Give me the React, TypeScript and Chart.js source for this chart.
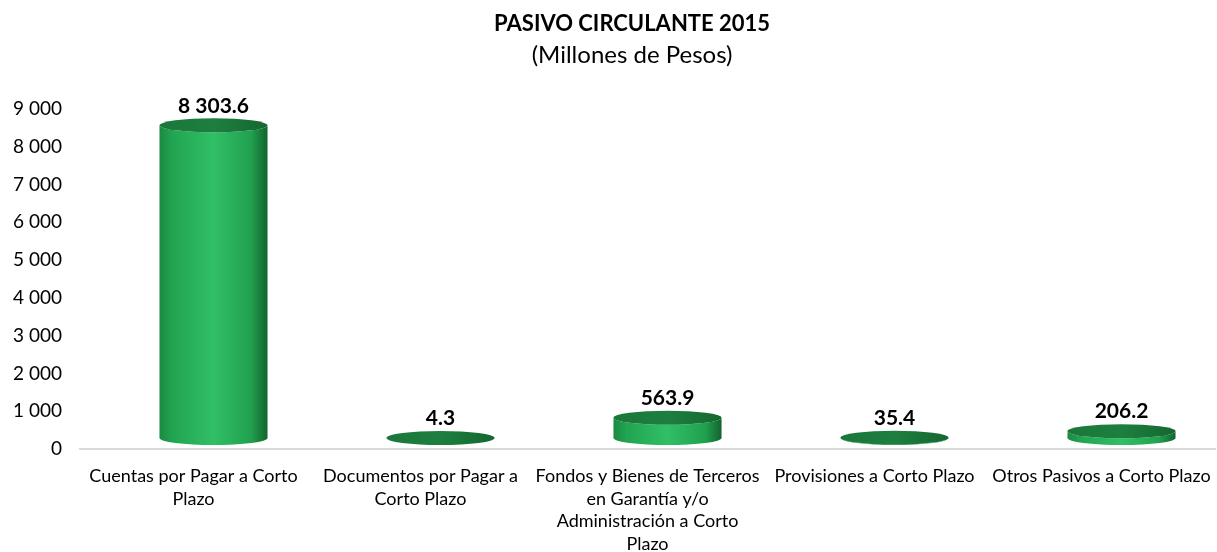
import React, { useEffect, useRef } from "react";
import { Chart, registerables } from "chart.js";

Chart.register(...registerables);

const categories: (string | string[])[] = [
  ["Cuentas por Pagar a Corto", "Plazo"],
  ["Documentos por Pagar a", "Corto Plazo"],
  ["Fondos y Bienes de Terceros", "en Garantía y/o", "Administración a Corto", "Plazo"],
  "Provisiones a Corto Plazo",
  "Otros Pasivos a Corto Plazo",
];
const values: number[] = [8303.6, 4.3, 563.9, 35.4, 206.2];
const valueLabels: string[] = ["8 303.6", "4.3", "563.9", "35.4", "206.2"];
const titleText = "PASIVO CIRCULANTE 2015";
const subtitleText = "(Millones de Pesos)";

const FONT = "Lato, 'Open Sans', sans-serif";

const fmt = (v: number) => {
  const s = Math.round(v).toString();
  return s.replace(/\B(?=(\d{3})+(?!\d))/g, " ");
};

const titlePlugin = {
  id: "manualTitles",
  afterDraw(chart: any) {
    const ctx = chart.ctx as CanvasRenderingContext2D;
    const cx = chart.chartArea.left + (chart.chartArea.right - chart.chartArea.left) * 0.4864;
    ctx.save();
    ctx.fillStyle = "#000";
    ctx.textAlign = "center";
    ctx.textBaseline = "middle";
    ctx.font = `bold 22px ${FONT}`;
    ctx.fillText(titleText, cx, 24);
    ctx.font = `normal 24px ${FONT}`;
    ctx.fillText(subtitleText, cx, 55);
    ctx.restore();
  },
};

const cylinderPlugin = {
  id: "cylinders",
  afterDatasetsDraw(chart: any) {
    const ctx = chart.ctx as CanvasRenderingContext2D;
    const meta = chart.getDatasetMeta(0);
    const y0 = chart.scales.y.getPixelForValue(0);
    meta.data.forEach((bar: any, i: number) => {
      const cx = bar.x + 20;
      const w = bar.width;
      const rx = w / 2;
      const ry = 7;
      const botY = y0 - 11;
      const topY = Math.min(bar.y - 10, botY);
      const left = cx - rx;
      const right = cx + rx;
      ctx.save();
      const g = ctx.createLinearGradient(left, 0, right, 0);
      g.addColorStop(0, "#1b8a42");
      g.addColorStop(0.12, "#22a451");
      g.addColorStop(0.5, "#30bf66");
      g.addColorStop(0.85, "#21a04e");
      g.addColorStop(1, "#12632d");
      ctx.fillStyle = g;
      ctx.beginPath();
      ctx.moveTo(left, topY);
      ctx.lineTo(left, botY);
      ctx.ellipse(cx, botY, rx, ry, 0, Math.PI, 0, true);
      ctx.lineTo(right, topY);
      ctx.ellipse(cx, topY, rx, ry, 0, 0, Math.PI, false);
      ctx.closePath();
      ctx.fill();
      const tg = ctx.createLinearGradient(left, 0, right, 0);
      tg.addColorStop(0, "#19773a");
      tg.addColorStop(0.5, "#1d7f3f");
      tg.addColorStop(1, "#156731");
      ctx.fillStyle = tg;
      ctx.beginPath();
      ctx.ellipse(cx, topY, rx, ry, 0, 0, Math.PI * 2);
      ctx.fill();
      ctx.fillStyle = "#000";
      ctx.font = `bold 21px ${FONT}`;
      ctx.textAlign = "center";
      ctx.textBaseline = "bottom";
      ctx.fillText(valueLabels[i], cx, topY - ry - 2);
      ctx.restore();
    });
  },
};

export default function App() {
  const ref = useRef<HTMLCanvasElement>(null);
  useEffect(() => {
    document.body.style.margin = "0";
    const chart = new Chart(ref.current!, {
      type: "bar",
      data: {
        labels: categories,
        datasets: [
          {
            data: values,
            backgroundColor: "rgba(0,0,0,0)",
            borderWidth: 0,
            categoryPercentage: 1,
            barPercentage: 0.476,
          },
        ],
      },
      options: {
        animation: false,
        responsive: false,
        devicePixelRatio: 1,
        layout: { padding: { left: 0, right: 2, top: 109, bottom: 0 } },
        plugins: {
          legend: { display: false },
          tooltip: { enabled: false },
          title: { display: false },
          subtitle: { display: false },
        },
        scales: {
          x: {
            grid: { display: false, drawTicks: false },
            border: { display: true, color: "#d9d9d9", width: 2 },
            ticks: {
              color: "#000",
              font: { family: FONT, size: 18, lineHeight: 1.25 },
              padding: 16,
              maxRotation: 0,
              autoSkip: false,
            },
            afterFit: (scale: any) => {
              scale.height = 103;
              scale.paddingLeft = 0;
              scale.paddingRight = 0;
            },
          },
          y: {
            min: 0,
            max: 9000,
            grid: { display: false, drawTicks: false },
            border: { display: false },
            ticks: {
              stepSize: 1000,
              color: "#000",
              font: { family: FONT, size: 19 },
              padding: 18,
              callback: (v: any) => fmt(Number(v)),
            },
            afterFit: (scale: any) => {
              scale.width = 80;
              scale.paddingTop = 0;
              scale.paddingBottom = 0;
            },
          },
        },
      },
      plugins: [cylinderPlugin, titlePlugin],
    });
    return () => chart.destroy();
  }, []);
  return <canvas ref={ref} width={1217} height={552} style={{ display: "block" }} />;
}
